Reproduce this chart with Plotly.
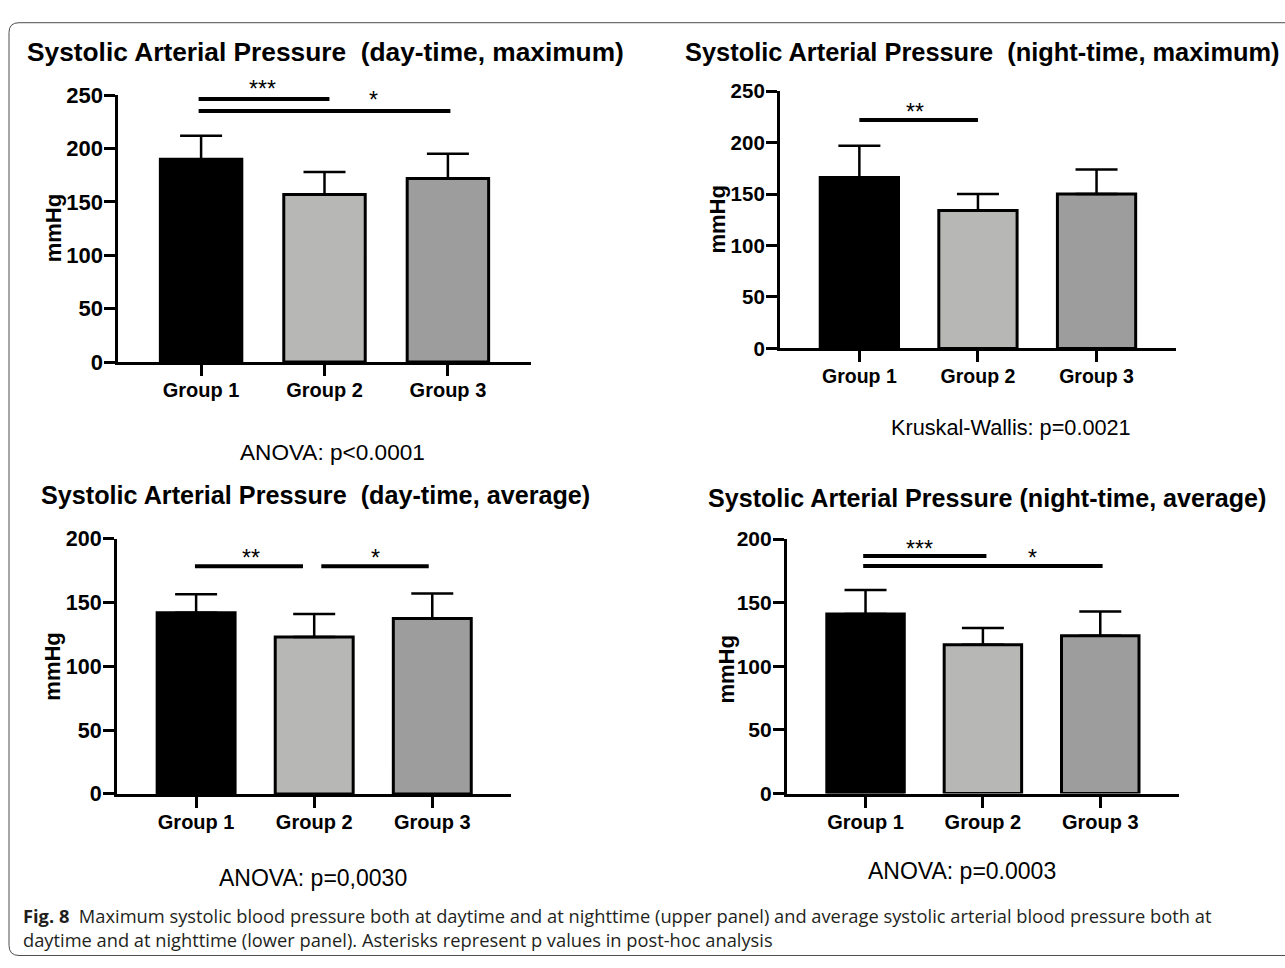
import plotly.graph_objects as go

# ---------------- data ----------------
groups = ["Group 1", "Group 2", "Group 3"]

day_max_mean = [190, 157, 172]
day_max_sd = [22, 21, 23]

night_max_mean = [166, 134, 150]
night_max_sd = [31, 16, 24]

day_avg_mean = [142, 123, 137.5]
day_avg_sd = [14.5, 18, 19.5]

night_avg_mean = [141, 117, 124]
night_avg_sd = [19, 13, 19]

titles = [
    "Systolic Arterial Pressure\u00a0\u00a0(day-time, maximum)",
    "Systolic Arterial Pressure\u00a0\u00a0(night-time, maximum)",
    "Systolic Arterial Pressure\u00a0\u00a0(day-time, average)",
    "Systolic Arterial Pressure (night-time, average)",
]
stat_tests = [
    "ANOVA: p<0.0001",
    "Kruskal-Wallis: p=0.0021",
    "ANOVA: p=0,0030",
    "ANOVA: p=0.0003",
]
# post-hoc comparisons: (group index a, group index b, label)
day_max_comparisons = [(0, 1, "***"), (0, 2, "*")]
night_max_comparisons = [(0, 1, "**")]
day_avg_comparisons = [(0, 1, "**"), (1, 2, "*")]
night_avg_comparisons = [(0, 1, "***"), (0, 2, "*")]

y_axis_label = "mmHg"
caption_bold = "Fig. 8"
caption_line1 = ("Maximum systolic blood pressure both at daytime and at nighttime (upper panel) "
                 "and average systolic arterial blood pressure both at")
caption_line2 = "daytime and at nighttime (lower panel). Asterisks represent p values in post-hoc analysis"

# ---------------- layout / style ----------------
W, H = 1285, 968
bar_colors = ["#000000", "#b7b8b6", "#9d9d9d"]
FONT = "Liberation Sans, Arial, Helvetica, sans-serif"
CAP_FONT = "Open Sans, sans-serif"


def fx(px):
    return px / W


def fy(py):
    return 1 - py / H


panels = [
    dict(mean=day_max_mean, sd=day_max_sd, comps=day_max_comparisons, ymax=250,
         xpx=(118.4, 530.6), ypx=(85.3, 359.3),
         title_pos=(25, 41), title_size=26.3, ytick_size=22, xtick_size=20,
         ylab_pos=(53, 222), stat_pos=(332, 452), stat_size=22.6,
         brackets=[dict(x0=-0.02, x1=1.04, y=246.4, lx=0.495, ly=258.5),
                   dict(x0=-0.02, x1=2.02, y=235.0, lx=1.395, ly=248.4)]),
    dict(mean=night_max_mean, sd=night_max_sd, comps=night_max_comparisons, ymax=250,
         xpx=(779.9, 1176.0), ypx=(81.3, 345.3),
         title_pos=(683, 41), title_size=25.4, ytick_size=20.5, xtick_size=19.5,
         ylab_pos=(717, 213), stat_pos=(1011, 427), stat_size=21.7,
         brackets=[dict(x0=0.0, x1=1.0, y=222.0, lx=0.47, ly=232.3)]),
    dict(mean=day_avg_mean, sd=day_avg_sd, comps=day_avg_comparisons, ymax=200,
         xpx=(117.0, 511.4), ypx=(540.7, 802.7),
         title_pos=(39, 496), title_size=25.2, ytick_size=21.5, xtick_size=20,
         ylab_pos=(53, 672), stat_pos=(313, 889), stat_size=23,
         brackets=[dict(x0=-0.01, x1=0.905, y=178.4, lx=0.465, ly=187.3),
                   dict(x0=1.06, x1=1.97, y=178.4, lx=1.52, ly=187.3)]),
    dict(mean=night_avg_mean, sd=night_avg_sd, comps=night_avg_comparisons, ymax=200,
         xpx=(786.9, 1178.9), ypx=(541.0, 802.3),
         title_pos=(706, 499), title_size=25.1, ytick_size=21, xtick_size=20,
         ylab_pos=(727, 675), stat_pos=(962, 882), stat_size=23,
         brackets=[dict(x0=-0.02, x1=1.03, y=186.7, lx=0.46, ly=194.4),
                   dict(x0=-0.02, x1=2.02, y=178.8, lx=1.42, ly=187.5)]),
]

fig = go.Figure()
annotations = []
shapes = []
layout_axes = {}

for k, p in enumerate(panels):
    n = k + 1
    xname = "x" if n == 1 else f"x{n}"
    yname = "y" if n == 1 else f"y{n}"
    xkey = "xaxis" if n == 1 else f"xaxis{n}"
    ykey = "yaxis" if n == 1 else f"yaxis{n}"

    fig.add_trace(go.Bar(
        x=groups, y=p["mean"], xaxis=xname, yaxis=yname,
        width=0.66,
        marker=dict(color=bar_colors, line=dict(color="black", width=3)),
        error_y=dict(type="data", symmetric=False, array=p["sd"],
                     arrayminus=[0] * len(p["sd"]),
                     thickness=2.5, width=21, color="black"),
        showlegend=False, hoverinfo="skip",
    ))

    layout_axes[xkey] = dict(
        domain=[fx(p["xpx"][0]), fx(p["xpx"][1])], anchor=yname,
        type="category", range=[-0.67, 2.67],
        showline=True, linecolor="black", linewidth=3,
        ticks="outside", ticklen=11, tickwidth=3, tickcolor="black",
        ticklabelstandoff=-3,
        tickfont=dict(family=FONT, size=p["xtick_size"], color="black", weight="bold"),
        showgrid=False, zeroline=False, fixedrange=True,
    )
    layout_axes[ykey] = dict(
        domain=[fy(p["ypx"][1]), fy(p["ypx"][0])], anchor=xname,
        range=[0, p["ymax"]], tickvals=list(range(0, p["ymax"] + 1, 50)),
        showline=True, linecolor="black", linewidth=3,
        ticks="outside", ticklen=11, tickwidth=3, tickcolor="black",
        ticklabelstandoff=-3,
        tickfont=dict(family=FONT, size=p["ytick_size"], color="black", weight="bold"),
        showgrid=False, zeroline=False, fixedrange=True,
    )

    # significance brackets
    for (a, b, lab), br in zip(p["comps"], p["brackets"]):
        shapes.append(dict(type="line", xref=xname, yref=yname,
                           x0=br["x0"], x1=br["x1"], y0=br["y"], y1=br["y"],
                           line=dict(color="black", width=4)))
        annotations.append(dict(
            xref=xname, yref=f"{yname} domain", x=br["lx"], y=br["ly"] / p["ymax"],
            text=lab, showarrow=False, xanchor="center", yanchor="middle", yshift=-3,
            font=dict(family=FONT, size=23, color="black")))

    # title
    annotations.append(dict(
        xref="paper", yref="paper", x=fx(p["title_pos"][0]), y=fy(p["title_pos"][1]),
        text=titles[k], showarrow=False, xanchor="left", yanchor="middle",
        font=dict(family=FONT, size=p["title_size"], color="black", weight="bold")))
    # y-axis label
    annotations.append(dict(
        xref="paper", yref="paper", x=fx(p["ylab_pos"][0]), y=fy(p["ylab_pos"][1]),
        text=y_axis_label, showarrow=False, textangle=-90,
        xanchor="center", yanchor="middle",
        font=dict(family=FONT, size=22, color="black", weight="bold")))
    # statistics text
    annotations.append(dict(
        xref="paper", yref="paper", x=fx(p["stat_pos"][0]), y=fy(p["stat_pos"][1]),
        text=stat_tests[k], showarrow=False, xanchor="center", yanchor="middle",
        font=dict(family=FONT, size=p["stat_size"], color="black")))

# caption (two lines in one text block)
annotations.append(dict(
    xref="paper", yref="paper", x=fx(21), y=fy(939.5),
    text=f"<b>{caption_bold}</b>\u00a0\u00a0{caption_line1}<br>{caption_line2}",
    showarrow=False, xanchor="left", yanchor="middle", align="left",
    font=dict(family=CAP_FONT, size=18.3, color="#231f20")))

# outer rounded frame
frame_path = (f"M {fx(9)},{fy(958)} L {fx(9)},{fy(21)} "
              f"Q {fx(9)},{fy(11)} {fx(19)},{fy(11)} L {fx(1290)},{fy(11)} "
              f"M {fx(9)},{fy(958)} Q {fx(9)},{fy(968.5)} {fx(19)},{fy(968.5)} L {fx(1290)},{fy(968.5)}")
shapes.append(dict(type="path", xref="paper", yref="paper", path=frame_path,
                   line=dict(color="#4d4d4d", width=1)))

fig.update_layout(
    width=W, height=H,
    margin=dict(l=0, r=0, t=0, b=0, pad=0),
    paper_bgcolor="white", plot_bgcolor="white",
    annotations=annotations, shapes=shapes,
    font=dict(family=FONT, color="black"),
    **layout_axes,
)

post = (
    "document.documentElement.style.margin='0';"
    "document.documentElement.style.overflow='hidden';"
    "document.body.style.margin='0';"
    "document.body.style.padding='0';"
    "document.body.style.overflow='hidden';"
)

fig.write_html("out.html", config={"displayModeBar": False}, post_script=post)
